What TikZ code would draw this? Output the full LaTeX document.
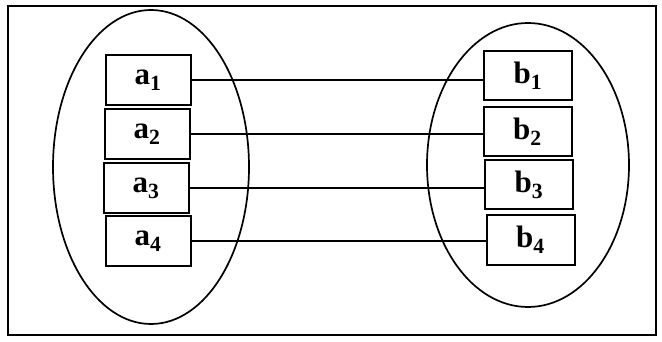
\documentclass[tikz,border=0pt]{standalone}
\usepackage{fontspec}
\setmainfont{Liberation Serif}
\usetikzlibrary{shapes.geometric}
\begin{document}
\begin{tikzpicture}[x=1pt,y=-1pt,
  setshape/.style={draw, ellipse, line width=1.7pt, inner sep=0pt},
  elbox/.style={draw, line width=2pt, minimum width=85pt, minimum height=50pt, inner sep=0pt,
    font=\fontsize{31}{34}\selectfont\bfseries},
  link/.style={line width=1.8pt}]
\useasboundingbox (0,0) rectangle (662,342);
\node[draw, line width=1.8pt, minimum width=648pt, minimum height=329pt, inner sep=0pt] (frame) at (332,170.5) {};
\node[setshape, minimum width=196pt, minimum height=314pt] (setA) at (151,167) {};
\node[setshape, minimum width=202pt, minimum height=284pt] (setB) at (528,165) {};
\node[elbox] (a1) at (148,80) {a\textsubscript{1}};
\node[elbox] (a2) at (147,134) {a\textsubscript{2}};
\node[elbox] (a3) at (146,188) {a\textsubscript{3}};
\node[elbox] (a4) at (148,241) {a\textsubscript{4}};
\node[elbox, minimum width=88pt, minimum height=49pt] (b1) at (528,76) {b\textsubscript{1}};
\node[elbox, minimum width=88pt, minimum height=49pt] (b2) at (527.5,132) {b\textsubscript{2}};
\node[elbox, minimum width=88pt, minimum height=49pt] (b3) at (529,185) {b\textsubscript{3}};
\node[elbox, minimum width=88pt, minimum height=49pt] (b4) at (530.5,240) {b\textsubscript{4}};
\draw[link] (a1.east) -- (a1.east -| b1.west);
\draw[link] (a2.east) -- (a2.east -| b2.west);
\draw[link] (a3.east) -- (a3.east -| b3.west);
\draw[link] (a4.east) -- (a4.east -| b4.west);
\end{tikzpicture}
\end{document}
